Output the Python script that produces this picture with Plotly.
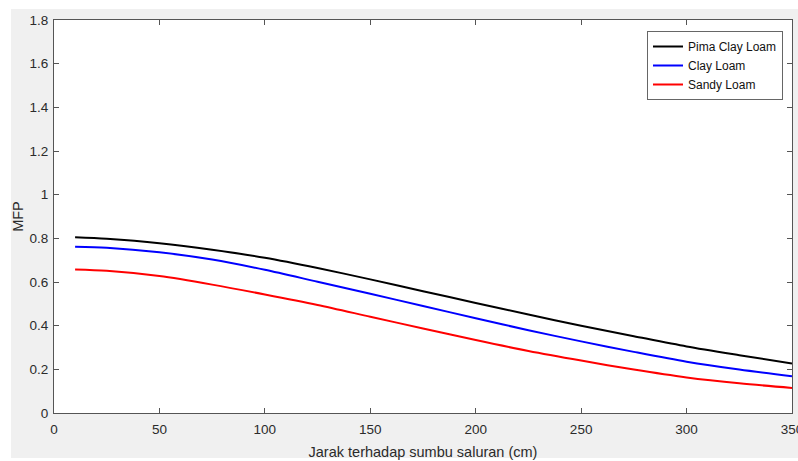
import plotly.graph_objects as go

# Distance from the channel axis (cm)
jarak = [10, 25, 50, 75, 100, 125, 150, 175, 200, 225, 250, 275, 300, 325, 350]

# MFP per soil type
pima_clay_loam = [0.805, 0.798, 0.778, 0.748, 0.711, 0.664, 0.612, 0.558, 0.504, 0.451,
                  0.400, 0.352, 0.305, 0.265, 0.227]
clay_loam = [0.762, 0.757, 0.736, 0.703, 0.656, 0.601, 0.546, 0.490, 0.434, 0.379,
             0.328, 0.280, 0.235, 0.199, 0.168]
sandy_loam = [0.657, 0.651, 0.627, 0.588, 0.543, 0.495, 0.441, 0.387, 0.334, 0.284,
              0.240, 0.199, 0.163, 0.136, 0.115]

series_names = ["Pima Clay Loam", "Clay Loam", "Sandy Loam"]
series_values = [pima_clay_loam, clay_loam, sandy_loam]
series_colors = ["#000000", "#0000ff", "#ff0000"]

W, H = 798, 461
ML, MR, MT, MB = 54, 6, 20, 48
PW, PH = W - ML - MR, H - MT - MB

FONT = "Liberation Sans, Arial, sans-serif"
TXT = "#2b2b2b"
AX = "#555555"

fig = go.Figure()
for name, vals, col in zip(series_names, series_values, series_colors):
    fig.add_trace(go.Scatter(x=jarak, y=vals, mode="lines", name=name,
                             line=dict(color=col, width=2, shape="spline", smoothing=0.8)))


def px_x(px):
    return (px - ML) / PW


def px_y(py):
    return (H - MB - py) / PH


# white page border around the grey figure panel
strips = [
    (0, 0, 11, H),    # left
    (0, 0, W, 9),     # top
    (0, 458, W, H),   # bottom
]
shapes = []
for x0, y0, x1, y1 in strips:
    shapes.append(dict(type="rect", xref="paper", yref="paper",
                       x0=px_x(x0), x1=px_x(x1), y0=px_y(y1), y1=px_y(y0),
                       fillcolor="white", line=dict(width=0), layer="above"))

axis_common = dict(
    showgrid=False, zeroline=False, showline=True, linecolor=AX, linewidth=1,
    mirror="ticks", ticks="inside", ticklen=5, tickcolor=AX, tickwidth=1,
    tickfont=dict(family=FONT, size=13.5, color=TXT),
    ticklabeloverflow="allow", automargin=False,
)

fig.update_layout(
    width=W, height=H,
    margin=dict(l=ML, r=MR, t=MT, b=MB, pad=0, autoexpand=False),
    paper_bgcolor="#f0f0f0", plot_bgcolor="white",
    font=dict(family=FONT, color=TXT),
    shapes=shapes,
    xaxis=dict(range=[0, 350], tick0=0, dtick=50, ticklabelstandoff=4,
               title=dict(text="Jarak terhadap sumbu saluran (cm)",
                          font=dict(family=FONT, size=14.5, color=TXT), standoff=10),
               **axis_common),
    yaxis=dict(range=[0, 1.8], tick0=0, dtick=0.2, ticklabelstandoff=2,
               title=dict(text="MFP", font=dict(family=FONT, size=14.5, color=TXT), standoff=2),
               **axis_common),
    legend=dict(x=px_x(783), y=px_y(31), xanchor="right", yanchor="top",
                bgcolor="white", bordercolor="#666666", borderwidth=1,
                font=dict(family=FONT, size=12, color="#111111"),
                tracegroupgap=0, itemwidth=30),
    showlegend=True,
)

fig.write_html("out.html")
